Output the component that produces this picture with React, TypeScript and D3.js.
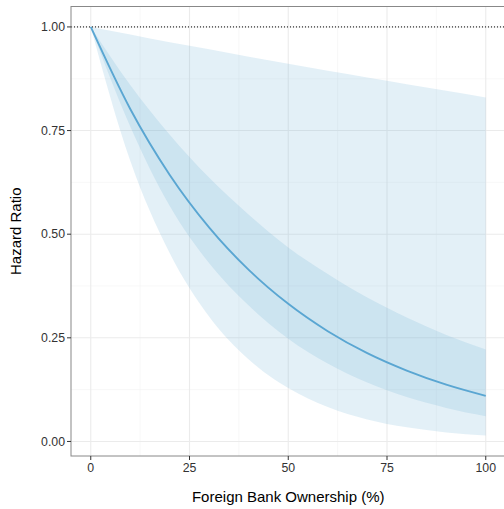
import React from "react";
import * as d3 from "d3";

const ownership = [0, 10, 20, 30, 40, 50, 60, 70, 80, 90, 100];
const hazard = [1.0, 0.802, 0.643, 0.516, 0.414, 0.332, 0.266, 0.213, 0.171, 0.137, 0.11];
const innerUpper = [1.0, 0.86, 0.74, 0.636, 0.547, 0.468, 0.404, 0.347, 0.299, 0.257, 0.222];
const innerLower = [1.0, 0.76, 0.568, 0.43, 0.328, 0.248, 0.188, 0.142, 0.107, 0.081, 0.061];
const outerUpper = [1.0, 0.982, 0.963, 0.946, 0.928, 0.911, 0.894, 0.878, 0.862, 0.846, 0.83];
const outerLower = [1.0, 0.677, 0.454, 0.301, 0.198, 0.129, 0.083, 0.053, 0.034, 0.0217, 0.0142];

const xTicks = [0, 25, 50, 75, 100];
const xMinor = [12.5, 37.5, 62.5, 87.5];
const yTicks = [0, 0.25, 0.5, 0.75, 1.0];
const yMinor = [0.125, 0.375, 0.625, 0.875];
const refLine = 1.0;
const xTitle = "Foreign Bank Ownership (%)";
const yTitle = "Hazard Ratio";

const W = 504;
const H = 509;
const P = { left: 71, right: 505.5, top: 6.5, bottom: 456 };

export default function App() {
  const ymin = d3.min(outerLower) as number;
  const ymax = d3.max(outerUpper) as number;
  const yr = ymax - ymin;
  const x = d3.scaleLinear().domain([-5, 105]).range([P.left, P.right]);
  const y = d3.scaleLinear().domain([ymin - 0.05 * yr, ymax + 0.05 * yr]).range([P.bottom, P.top]);

  const idx = ownership.map((_, i) => i);
  const band = (lo: number[], hi: number[]) =>
    d3
      .area<number>()
      .x((i) => x(ownership[i]))
      .y0((i) => y(lo[i]))
      .y1((i) => y(hi[i]))
      .curve(d3.curveMonotoneX)(idx) as string;
  const line = d3
    .line<number>()
    .x((i) => x(ownership[i]))
    .y((i) => y(hazard[i]))
    .curve(d3.curveMonotoneX)(idx) as string;

  const font = "'Liberation Sans', Arial, Helvetica, sans-serif";
  const fill = "#6baed6";
  const op = 0.19;

  return (
    <svg
      width={W}
      height={H}
      style={{ position: "absolute", left: 0, top: 0, background: "#fff" }}
      fontFamily={font}
    >
      <defs>
        <clipPath id="panel">
          <rect x={P.left} y={P.top} width={P.right - P.left} height={P.bottom - P.top} />
        </clipPath>
      </defs>
      <rect x={0} y={0} width={W} height={H} fill="#fff" />
      <g clipPath="url(#panel)">
        {xMinor.map((v) => (
          <line key={"xm" + v} x1={x(v)} x2={x(v)} y1={P.top} y2={P.bottom} stroke="#f3f3f3" strokeWidth={0.6} />
        ))}
        {yMinor.map((v) => (
          <line key={"ym" + v} x1={P.left} x2={P.right} y1={y(v)} y2={y(v)} stroke="#f3f3f3" strokeWidth={0.6} />
        ))}
        {xTicks.map((v) => (
          <line key={"xg" + v} x1={x(v)} x2={x(v)} y1={P.top} y2={P.bottom} stroke="#ebebeb" strokeWidth={1.1} />
        ))}
        {yTicks.map((v) => (
          <line key={"yg" + v} x1={P.left} x2={P.right} y1={y(v)} y2={y(v)} stroke="#ebebeb" strokeWidth={1.1} />
        ))}
        <path d={band(outerLower, outerUpper)} fill={fill} fillOpacity={op} />
        <path d={band(innerLower, innerUpper)} fill={fill} fillOpacity={op} />
        <path d={line} fill="none" stroke="#5aa6d2" strokeWidth={1.9} />
        <line
          x1={P.left}
          x2={P.right}
          y1={y(refLine)}
          y2={y(refLine)}
          stroke="#000"
          strokeWidth={1}
          strokeDasharray="1,2"
        />
      </g>
      <rect
        x={P.left}
        y={P.top}
        width={P.right - P.left}
        height={P.bottom - P.top}
        fill="none"
        stroke="#888"
        strokeWidth={1}
      />
      {yTicks.map((v) => (
        <g key={"yt" + v}>
          <line x1={P.left - 4} x2={P.left} y1={y(v)} y2={y(v)} stroke="#333" strokeWidth={1} />
          <text x={P.left - 6} y={y(v)} dy="0.35em" textAnchor="end" fontSize={12.3} fill="#333">
            {v.toFixed(2)}
          </text>
        </g>
      ))}
      {xTicks.map((v) => (
        <g key={"xt" + v}>
          <line x1={x(v)} x2={x(v)} y1={P.bottom} y2={P.bottom + 4} stroke="#333" strokeWidth={1} />
          <text x={x(v)} y={P.bottom + 7} dy="0.71em" textAnchor="middle" fontSize={12.3} fill="#333">
            {v}
          </text>
        </g>
      ))}
      <text x={(P.left + P.right) / 2} y={497} dy="0.35em" textAnchor="middle" fontSize={15} fill="#000">
        {xTitle}
      </text>
      <text
        transform={`translate(16,${(P.top + P.bottom) / 2}) rotate(-90)`}
        dy="0.35em"
        textAnchor="middle"
        fontSize={15}
        fill="#000"
      >
        {yTitle}
      </text>
    </svg>
  );
}
